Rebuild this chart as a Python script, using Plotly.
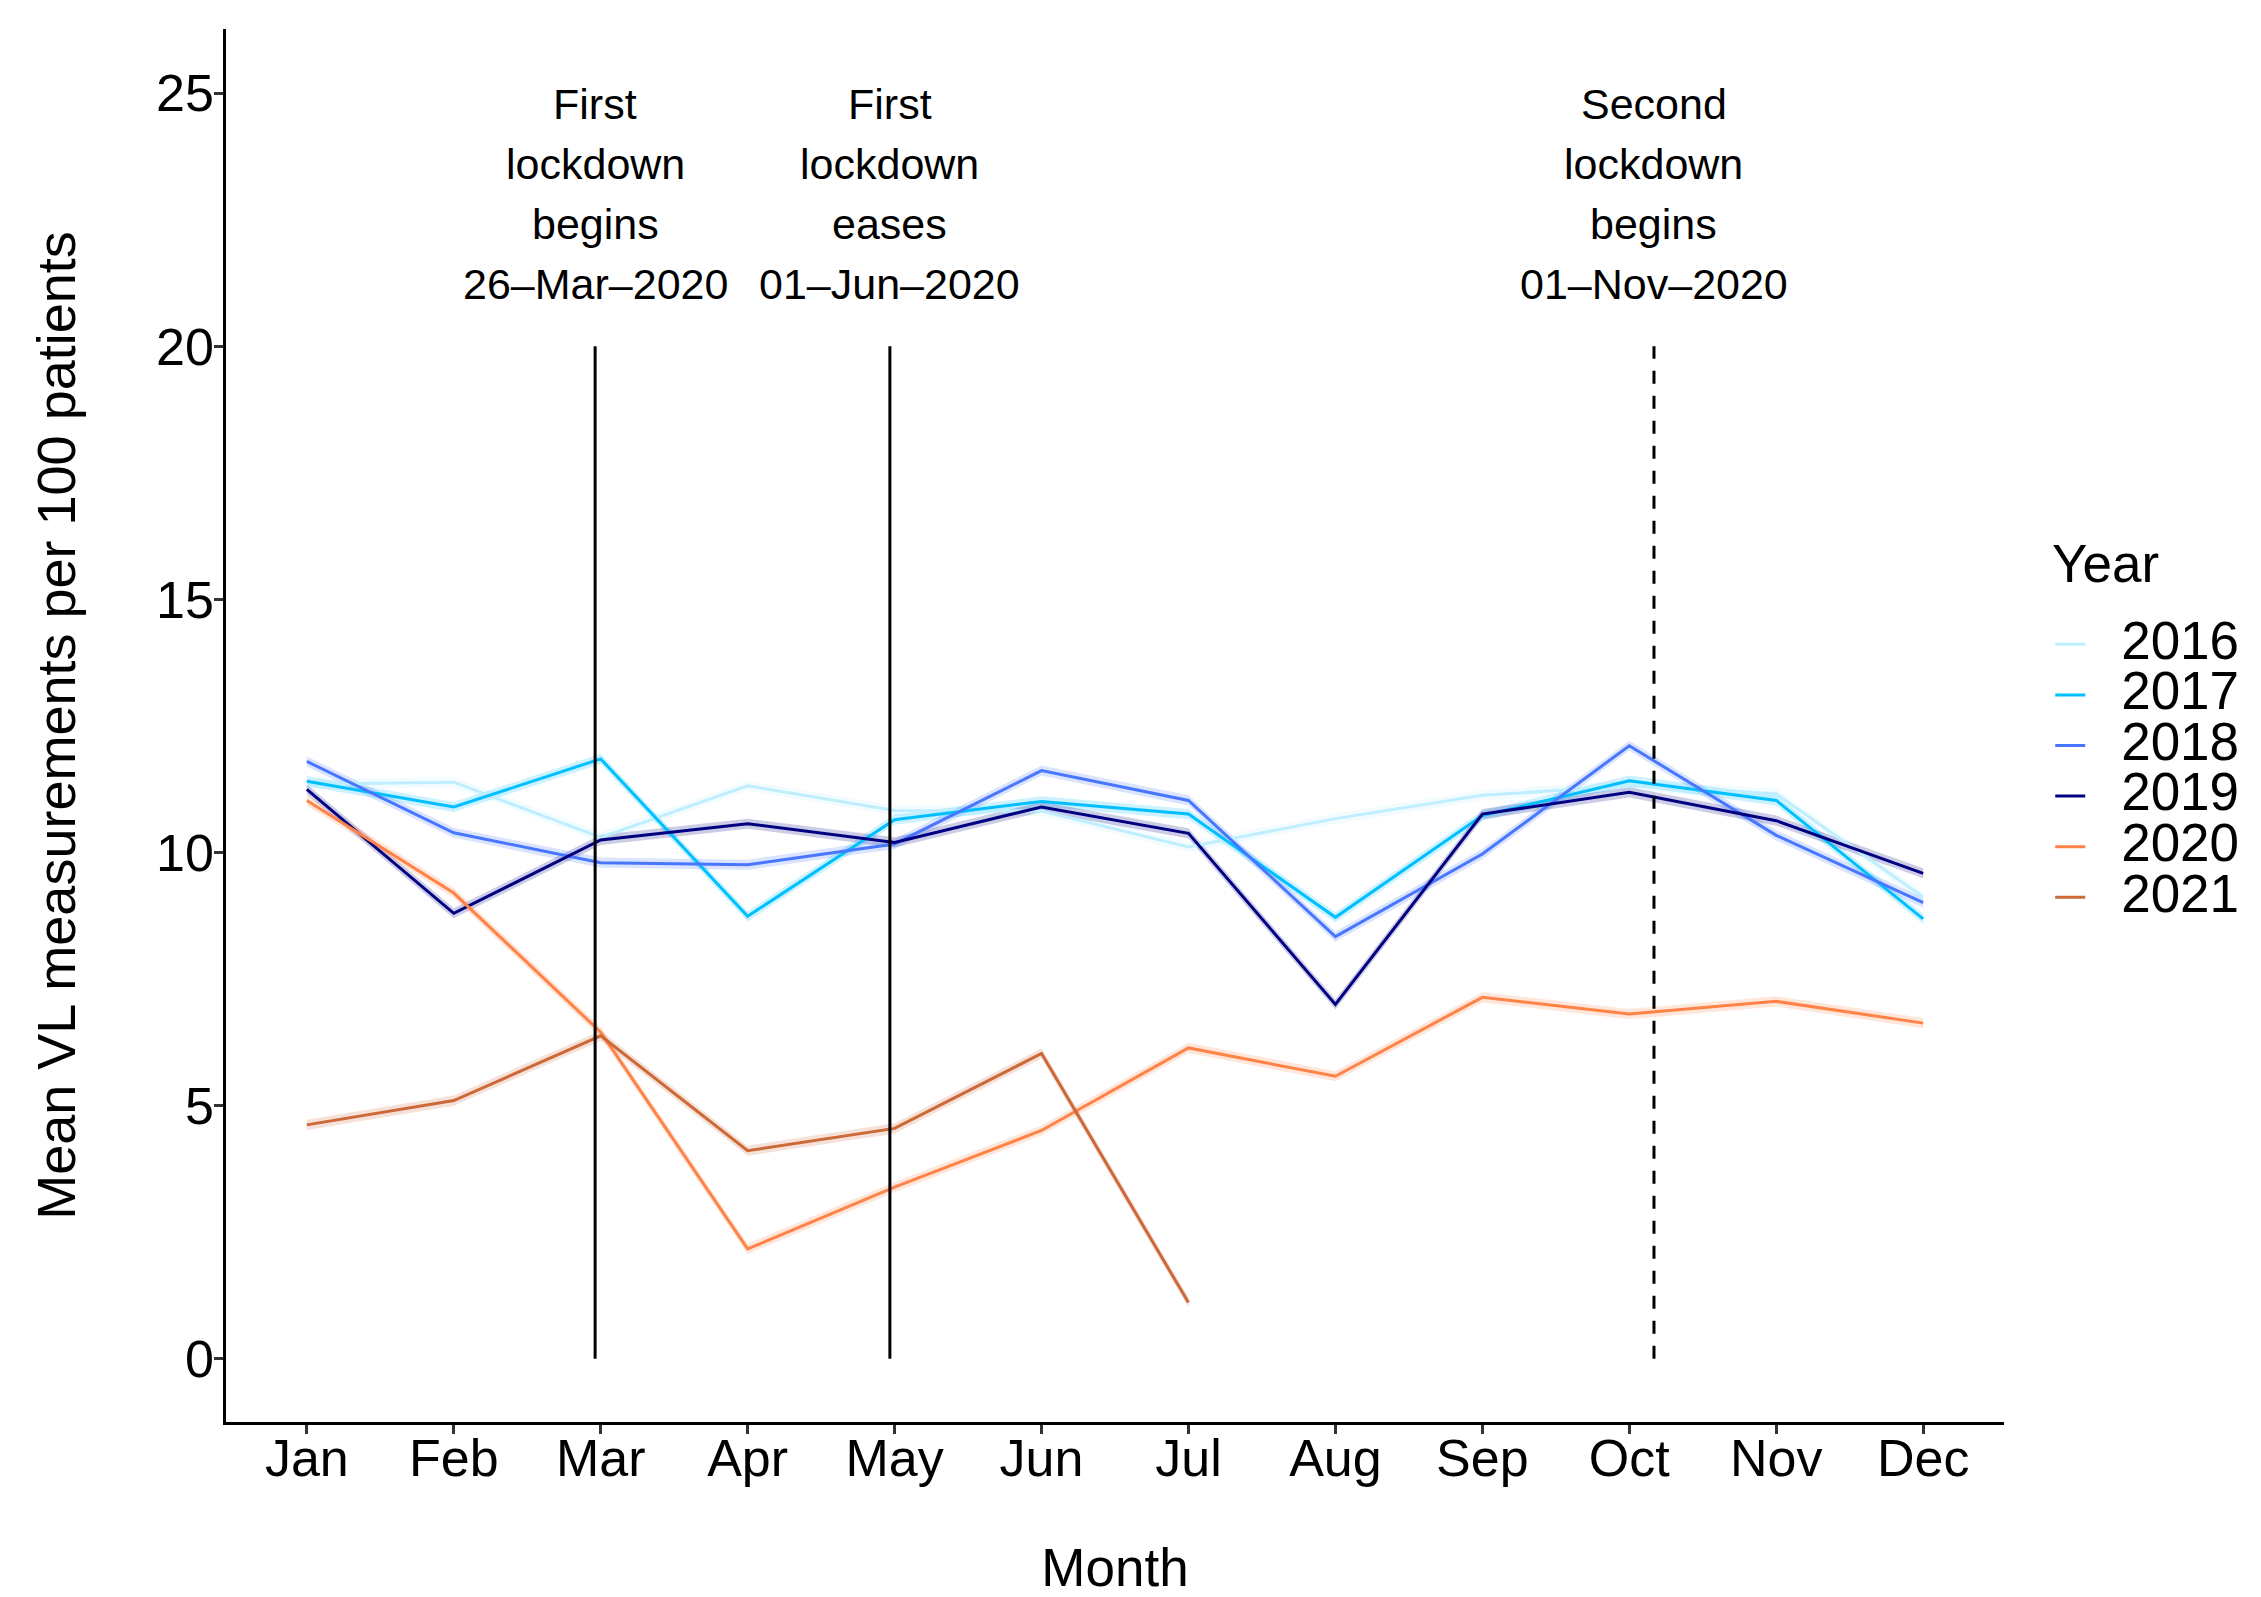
import plotly.graph_objects as go

# ---------------- data ----------------
months = ["Jan", "Feb", "Mar", "Apr", "May", "Jun", "Jul", "Aug", "Sep", "Oct", "Nov", "Dec"]
month_num = list(range(1, 13))
years = ["2016", "2017", "2018", "2019", "2020", "2021"]

v2016 = [11.35, 11.39, 10.30, 11.32, 10.83, 10.82, 10.11, 10.67, 11.13, 11.32, 11.16, 9.12]
v2017 = [11.41, 10.90, 11.85, 8.74, 10.65, 11.01, 10.76, 8.72, 10.73, 11.42, 11.03, 8.69]
v2018 = [11.80, 10.39, 9.80, 9.76, 10.17, 11.62, 11.03, 8.34, 9.97, 12.11, 10.34, 9.01]
v2019 = [11.25, 8.80, 10.25, 10.57, 10.20, 10.90, 10.38, 7.00, 10.76, 11.19, 10.63, 9.59]
v2020 = [11.03, 9.20, 6.45, 2.17, 3.39, 4.51, 6.14, 5.58, 7.14, 6.81, 7.06, 6.63]
v2021 = [4.62, 5.10, 6.38, 4.11, 4.55, 6.03, 1.11]

series = [v2016, v2017, v2018, v2019, v2020, v2021]
colors = ["#BFEFFF", "#00BFFF", "#4876FF", "#000080", "#FF8247", "#CD6839"]

y_ticks = [0, 5, 10, 15, 20, 25]

event_x = [2.962, 4.968, 10.168]
event_text = [
    ["First", "lockdown", "begins", "26\u2013Mar\u20132020"],
    ["First", "lockdown", "eases", "01\u2013Jun\u20132020"],
    ["Second", "lockdown", "begins", "01\u2013Nov\u20132020"],
]
event_dash = ["solid", "solid", "13px,12px"]
event_top = 20
label_rows_y = [24.78, 23.60, 22.41, 21.23]

FONT = "Liberation Sans, Arial, Helvetica, sans-serif"


def rgba(hex_color, a):
    h = hex_color.lstrip("#")
    r, g, b = int(h[0:2], 16), int(h[2:4], 16), int(h[4:6], 16)
    return f"rgba({r},{g},{b},{a})"


fig = go.Figure()

# halo bands (constant vertical thickness) under each line
half = 0.1
for yr, vals, col in zip(years, series, colors):
    xs = month_num[: len(vals)]
    fig.add_trace(go.Scatter(
        x=xs + xs[::-1],
        y=[v + half for v in vals] + [v - half for v in vals][::-1],
        fill="toself", fillcolor=rgba(col, 0.2),
        line=dict(width=0), mode="lines",
        hoverinfo="skip", showlegend=False,
    ))

for yr, vals, col in zip(years, series, colors):
    xs = month_num[: len(vals)]
    fig.add_trace(go.Scatter(
        x=xs, y=vals, mode="lines",
        line=dict(color=col, width=3),
        name=f'<span style="font-size:53px">\u2002\u200a{yr}</span>',
    ))

# lockdown lines and labels
for ex, lines, dash in zip(event_x, event_text, event_dash):
    fig.add_shape(type="line", xref="x", yref="y", x0=ex, x1=ex, y0=0, y1=event_top,
                  line=dict(color="black", width=3, dash=dash))
    for txt, yy in zip(lines, label_rows_y):
        fig.add_annotation(x=ex, y=yy, xref="x", yref="y", text=txt, showarrow=False,
                           xanchor="center", yanchor="middle",
                           font=dict(size=43, color="black", family=FONT))

# legend title
fig.add_annotation(x=1.026, y=0.616, xref="paper", yref="paper", text="Year",
                   showarrow=False, xanchor="left", yanchor="middle",
                   font=dict(size=53, color="black", family=FONT))

fig.update_layout(
    width=2261, height=1597,
    margin=dict(l=226, r=257, t=29, b=175),
    plot_bgcolor="white", paper_bgcolor="white",
    font=dict(family=FONT, color="black"),
    xaxis=dict(
        range=[0.45, 12.55], tickvals=month_num, ticktext=months,
        showgrid=False, zeroline=False, showline=True, linecolor="black", linewidth=2.5,
        ticks="outside", ticklen=9, tickwidth=2.5, tickcolor="#333333",
        tickfont=dict(size=52, color="black"), ticklabelstandoff=-20,
        title=dict(text="Month", font=dict(size=53, color="black"), standoff=77),
        automargin=False,
    ),
    yaxis=dict(
        range=[-1.25, 26.27], tickvals=y_ticks,
        showgrid=False, zeroline=False, showline=True, linecolor="black", linewidth=2.5,
        ticks="outside", ticklen=9, tickwidth=2.5, tickcolor="#333333",
        tickfont=dict(size=52, color="black"), ticklabelstandoff=-10,
        title=dict(text="Mean VL measurements per 100 patients", font=dict(size=54, color="black"), standoff=64),
        automargin=False,
    ),
    legend=dict(
        x=1.026, xanchor="left", y=0.580, yanchor="top",
        font=dict(size=36.6, color="black", family=FONT),
        bgcolor="rgba(0,0,0,0)", tracegroupgap=0,
    ),
)

fig.write_html("out.html", post_script="document.body.style.margin='0';",
               config={"displayModeBar": False})
